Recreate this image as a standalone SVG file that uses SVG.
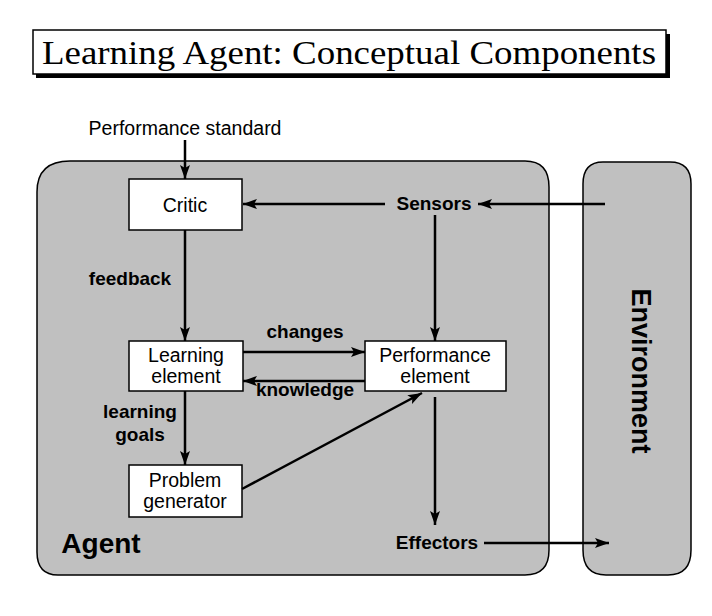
<svg xmlns="http://www.w3.org/2000/svg" width="712" height="616" viewBox="0 0 712 616">
<defs>
<marker id="ah" viewBox="0 0 14 10" refX="14" refY="5" markerWidth="14" markerHeight="10" markerUnits="userSpaceOnUse" orient="auto">
<path d="M0,0 L14,5 L0,10 L3,5 Z" fill="#000"/>
</marker>
</defs>
<style>
.region{fill:#c0c0c0;stroke:#000;stroke-width:1.5}
.box{fill:#fff;stroke:#000;stroke-width:1.5}
.t{font-family:"Liberation Sans",Arial,sans-serif;font-size:19.5px;fill:#000;text-anchor:middle}
.b{font-family:"Liberation Sans",Arial,sans-serif;font-size:19px;font-weight:bold;fill:#000;text-anchor:middle}
.c{fill:none;stroke:#000;stroke-width:2.5;marker-end:url(#ah)}
.l{fill:none;stroke:#000;stroke-width:2.5}
</style>
<rect width="712" height="616" fill="#fff"/>
<g id="title">
<rect x="36" y="34" width="634" height="44" fill="#000"/>
<rect x="33" y="30" width="633" height="44" fill="#fff" stroke="#000" stroke-width="1.5"/>
<text x="349" y="64" font-family="'Liberation Serif','Times New Roman',serif" font-size="34" text-anchor="middle" textLength="614" lengthAdjust="spacingAndGlyphs">Learning Agent: Conceptual Components</text>
</g>
<g id="agent">
<path class="region" d="M37,192 Q37,161 70,161 L525,161 Q549,161 549,187 L549,550 Q549,575 525,575 L58,575 Q37,575 37,552 Z"/>
<text x="101" y="553" font-family="'Liberation Sans',Arial,sans-serif" font-size="28" font-weight="bold" text-anchor="middle">Agent</text>
</g>
<g id="environment">
<path class="region" d="M583,184 Q583,162 603,162 L670,162 Q691,162 691,184 L691,550 Q691,575 668,575 L606,575 Q583,575 583,550 Z"/>
<text transform="translate(632,371) rotate(90)" font-family="'Liberation Sans',Arial,sans-serif" font-size="27" font-weight="bold" text-anchor="middle">Environment</text>
</g>
<g id="performance-standard">
<text class="t" x="185" y="135">Performance standard</text>
</g>
<g id="critic">
<rect class="box" x="129" y="179" width="113" height="51"/>
<text class="t" x="185" y="212">Critic</text>
</g>
<g id="sensors">
<text class="b" x="434" y="210">Sensors</text>
</g>
<g id="learning-element">
<rect class="box" x="129" y="341" width="114" height="50"/>
<text class="t" x="186" y="362">Learning</text>
<text class="t" x="186" y="383">element</text>
</g>
<g id="performance-element">
<rect class="box" x="365" y="341" width="141" height="50"/>
<text class="t" x="435" y="362">Performance</text>
<text class="t" x="435" y="383">element</text>
</g>
<g id="problem-generator">
<rect class="box" x="129" y="465" width="113" height="52"/>
<text class="t" x="185" y="487">Problem</text>
<text class="t" x="185" y="508">generator</text>
</g>
<g id="effectors">
<text class="b" x="437" y="549">Effectors</text>
</g>
<g id="connectors">
<line class="c" x1="185" y1="140" x2="185" y2="179"/>
<line class="c" x1="385" y1="204" x2="243" y2="204"/>
<line class="c" x1="605" y1="204" x2="478" y2="204"/>
<line class="c" x1="435" y1="215" x2="435" y2="341"/>
<line class="c" x1="185" y1="230" x2="185" y2="341"/>
<line class="c" x1="243" y1="352" x2="365" y2="352"/>
<line class="c" x1="365" y1="381" x2="243" y2="381"/>
<line class="c" x1="185" y1="391" x2="185" y2="465"/>
<line class="c" x1="242" y1="489" x2="422" y2="393"/>
<line class="c" x1="435" y1="397" x2="435" y2="525"/>
<line class="c" x1="484" y1="543" x2="609" y2="543"/>
<text class="b" x="130" y="285">feedback</text>
<text class="b" x="305" y="338">changes</text>
<text class="b" x="305" y="396">knowledge</text>
<text class="b" x="140" y="418">learning</text>
<text class="b" x="140" y="441">goals</text>
</g>
</svg>
